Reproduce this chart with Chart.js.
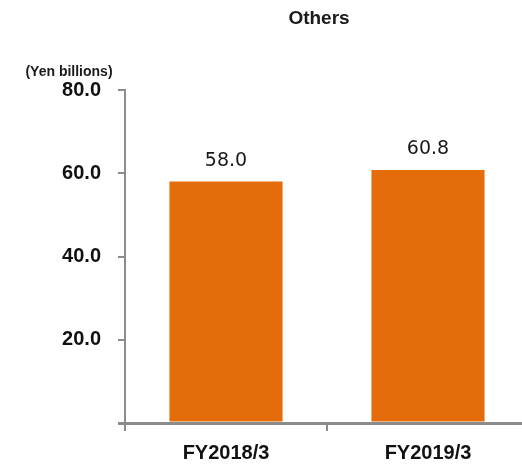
<!DOCTYPE html>
<html>
<head>
<meta charset="utf-8">
<script src="https://cdn.jsdelivr.net/npm/chart.js@4"></script>
<style>
  html, body { margin: 0; padding: 0; background: #fff; overflow: hidden; }
  canvas { display: block; }
</style>
</head>
<body>
<!-- canvas is a bit wider than the window: the plot runs off the right edge like the original -->
<canvas id="myChart" width="529" height="467"></canvas>
<script>
// data
const categories = ['FY2018/3', 'FY2019/3'];
const othersValues = [58.0, 60.8];
const yTicks = [0, 20, 40, 60, 80];
const chartTitle = 'Others';
const unitLabel = '(Yen billions)';

const axisGray = '#8c8c8c';

// value labels above the bars + title and unit text
const extraText = {
  id: 'extraText',
  afterDatasetsDraw(chart) {
    const {ctx} = chart;
    ctx.save();
    ctx.fillStyle = '#1a1a1a';
    ctx.textAlign = 'center';
    ctx.textBaseline = 'alphabetic';
    ctx.font = '19px "DejaVu Sans"';
    chart.getDatasetMeta(0).data.forEach((bar, i) => {
      ctx.fillText(othersValues[i].toFixed(1), bar.x, bar.y - 16);
    });

    ctx.textBaseline = 'middle';
    ctx.font = 'bold 19px "Liberation Sans"';
    ctx.fillText(chartTitle, 319, 19);
    ctx.font = 'bold 14px "Liberation Sans"';
    ctx.fillText(unitLabel, 69, 72);
    ctx.restore();
  }
};

const config = {
  type: 'bar',
  data: {
    labels: categories,
    datasets: [{
      label: chartTitle,
      data: othersValues,
      backgroundColor: '#e46c0a',
      borderWidth: 0,
      barPercentage: 0.56,
      categoryPercentage: 1
    }]
  },
  options: {
    responsive: false,
    animation: false,
    layout: {
      padding: {top: 90, right: 0, left: 0, bottom: 0}
    },
    scales: {
      x: {
        grid: {
          offset: true,
          drawOnChartArea: false,
          color: axisGray,
          lineWidth: 2,
          tickLength: 8
        },
        border: {color: axisGray, width: 3},
        ticks: {
          color: '#111',
          padding: 10,
          font: {family: 'Liberation Sans', size: 20, weight: 'bold'}
        },
        afterFit(scale) { scale.height = 44; }
      },
      y: {
        min: 0,
        max: 80,
        afterBuildTicks(scale) {
          scale.ticks = yTicks.map(v => ({value: v}));
        },
        grid: {
          drawOnChartArea: false,
          color: axisGray,
          lineWidth: ctx => (ctx.tick && ctx.tick.value === 0 ? 3 : 2),
          tickLength: 7
        },
        border: {color: axisGray, width: 2},
        ticks: {
          color: '#111',
          padding: 17,
          font: {family: 'Liberation Sans', size: 20, weight: 'bold'},
          callback: v => (v === 0 ? '' : v.toFixed(1))
        },
        afterFit(scale) { scale.width = 125; }
      }
    },
    plugins: {
      legend: {display: false},
      tooltip: {enabled: false}
    }
  },
  plugins: [extraText]
};

const myChart = new Chart(document.getElementById('myChart'), config);
</script>
</body>
</html>
